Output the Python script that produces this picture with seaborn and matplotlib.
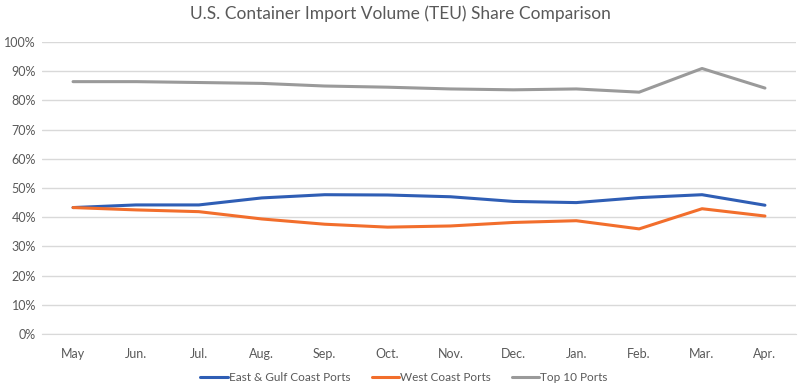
import pandas as pd
import seaborn as sns
import matplotlib.pyplot as plt
from matplotlib.ticker import PercentFormatter

months = ["May", "Jun.", "Jul.", "Aug.", "Sep.", "Oct.", "Nov.", "Dec.", "Jan.", "Feb.", "Mar.", "Apr."]
east_gulf = [43.3, 44.2, 44.2, 46.6, 47.7, 47.6, 47.0, 45.4, 45.0, 46.7, 47.7, 44.1]
west_coast = [43.3, 42.5, 41.9, 39.4, 37.6, 36.6, 37.0, 38.2, 38.8, 36.0, 42.9, 40.4]
top10 = [86.4, 86.4, 86.1, 85.8, 84.9, 84.5, 83.9, 83.6, 83.9, 82.8, 90.9, 84.2]

series = {"East & Gulf Coast Ports": east_gulf,
          "West Coast Ports": west_coast,
          "Top 10 Ports": top10}
colors = {"East & Gulf Coast Ports": "#2F5EB5",
          "West Coast Ports": "#F26E2C",
          "Top 10 Ports": "#9A9A9A"}

# long format for seaborn
rows = []
for name, vals in series.items():
    for i, v in enumerate(vals):
        rows.append({"month": i, "share": v / 100, "series": name})
df = pd.DataFrame(rows)

sns.set_style("white")
plt.rcParams["font.family"] = ["Lato", "DejaVu Sans"]

fig = plt.figure(figsize=(8, 3.88), dpi=100)
ax = fig.add_axes([0.052, 0.139, 0.9435, 0.753])

sns.lineplot(data=df, x="month", y="share", hue="series", palette=colors,
             linewidth=2.2, ax=ax, legend=False)

ax.set_xlim(-0.5, len(months) - 0.5)
ax.set_ylim(0, 1.0)
ax.set_yticks([i / 10 for i in range(11)])
ax.yaxis.set_major_formatter(PercentFormatter(1.0, decimals=0))
ax.set_xticks(range(len(months)))
ax.set_xticklabels(months)
ax.tick_params(axis="both", labelsize=9, colors="#595959", length=0)
ax.tick_params(axis="x", pad=10)
ax.tick_params(axis="y", pad=4)
ax.grid(axis="y", color="#D9D9D9", linewidth=1)
ax.set_axisbelow(True)
for s in ["top", "right", "left"]:
    ax.spines[s].set_visible(False)
ax.spines["bottom"].set_color("#D9D9D9")
ax.set_xlabel("")
ax.set_ylabel("")

fig.suptitle("U.S. Container Import Volume (TEU) Share Comparison",
             y=0.985, fontsize=12.5, color="#595959")

handles = [plt.Line2D([], [], color=colors[n], linewidth=2.2) for n in series]
fig.legend(handles, list(series.keys()), loc="lower center", ncol=3,
           bbox_to_anchor=(0.505, -0.015), frameon=False, fontsize=8.5,
           labelcolor="#595959", handlelength=2.3, handletextpad=0.1,
           columnspacing=1.8)

plt.savefig("out.png", dpi=100)
